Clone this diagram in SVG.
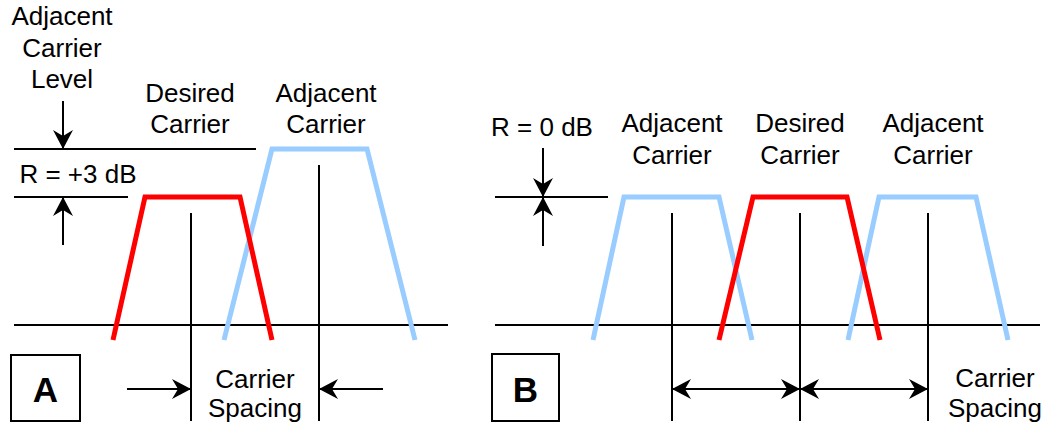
<svg xmlns="http://www.w3.org/2000/svg" width="1047" height="429" viewBox="0 0 1047 429">
<defs>
<marker id="ah" markerUnits="userSpaceOnUse" viewBox="-20 -11 21 22" refX="0" refY="0" markerWidth="21" markerHeight="22" orient="auto-start-reverse">
<path d="M0,0 L-19,-10 L-13,0 L-19,10 Z" fill="#000"/>
</marker>
<style>
.t{font-family:"Liberation Sans",Arial,sans-serif;font-size:26px;fill:#000;text-anchor:middle}
.big{font-family:"Liberation Sans",Arial,sans-serif;font-size:35px;font-weight:bold;fill:#000;text-anchor:middle}
.ln{stroke:#000;stroke-width:2;fill:none}
.arr{stroke:#000;stroke-width:2;fill:none;marker-end:url(#ah)}
.darr{stroke:#000;stroke-width:2;fill:none;marker-start:url(#ah);marker-end:url(#ah)}
.red{stroke:#FF0000;stroke-width:5;fill:none;stroke-linejoin:miter}
.blue{stroke:#99CCFF;stroke-width:5;fill:none;stroke-linejoin:miter}
.box{stroke:#000;stroke-width:2;fill:#fff}
</style>
</defs>
<rect width="1047" height="429" fill="#fff"/>

<g id="panelA">
<g id="A-axis"><line class="ln" x1="14" y1="325" x2="448" y2="325"/></g>
<g id="A-levels">
<line class="ln" x1="14" y1="149" x2="256" y2="149"/>
<line class="ln" x1="14" y1="197" x2="128" y2="197"/>
</g>
<g id="A-adjacent"><polyline class="blue" points="224,340 272,149 367,149 415,340"/></g>
<g id="A-desired"><polyline class="red" points="113,340 145,197 240,197 272,340"/></g>
<g id="A-centers">
<line class="ln" x1="191" y1="213" x2="191" y2="421"/>
<line class="ln" x1="319" y1="165" x2="319" y2="421"/>
</g>
<g id="A-labels">
<text class="t" x="62" y="25">Adjacent</text>
<text class="t" x="62" y="57">Carrier</text>
<text class="t" x="62" y="88">Level</text>
<text class="t" x="190" y="102">Desired</text>
<text class="t" x="190" y="133">Carrier</text>
<text class="t" x="326" y="102">Adjacent</text>
<text class="t" x="326" y="133">Carrier</text>
<text class="t" x="78" y="183">R = +3 dB</text>
<text class="t" x="255" y="388">Carrier</text>
<text class="t" x="255" y="417">Spacing</text>
</g>
<g id="A-box">
<rect class="box" x="11" y="355" width="69" height="66"/>
<text class="big" x="45.5" y="402">A</text>
</g>
</g>

<g id="panelB">
<g id="B-axis"><line class="ln" x1="495" y1="325" x2="1040" y2="325"/></g>
<g id="B-level"><line class="ln" x1="495" y1="197" x2="608" y2="197"/></g>
<g id="B-adj-left"><polyline class="blue" points="593,340 624,197 719,197 752,340"/></g>
<g id="B-adj-right"><polyline class="blue" points="848,340 879,197 976,197 1008,340"/></g>
<g id="B-desired"><polyline class="red" points="719,340 753,197 847,197 880,340"/></g>
<g id="B-centers">
<line class="ln" x1="672" y1="213" x2="672" y2="421"/>
<line class="ln" x1="800" y1="213" x2="800" y2="421"/>
<line class="ln" x1="928" y1="213" x2="928" y2="421"/>
</g>
<g id="B-labels">
<text class="t" x="542" y="136">R = 0 dB</text>
<text class="t" x="672" y="132">Adjacent</text>
<text class="t" x="672" y="164">Carrier</text>
<text class="t" x="800" y="132">Desired</text>
<text class="t" x="800" y="164">Carrier</text>
<text class="t" x="933" y="132">Adjacent</text>
<text class="t" x="933" y="164">Carrier</text>
<text class="t" x="995" y="387">Carrier</text>
<text class="t" x="995" y="417">Spacing</text>
</g>
<g id="B-box">
<rect class="box" x="492" y="354" width="67" height="67"/>
<text class="big" x="525.5" y="402">B</text>
</g>
</g>

<g id="connectors">
<line class="arr" x1="63" y1="101" x2="63" y2="149"/>
<line class="arr" x1="63" y1="245" x2="63" y2="197"/>
<line class="arr" x1="127" y1="389" x2="191" y2="389"/>
<line class="arr" x1="383" y1="389" x2="319" y2="389"/>
<line class="arr" x1="543" y1="148" x2="543" y2="197"/>
<line class="arr" x1="543" y1="246" x2="543" y2="197"/>
<line class="darr" x1="672" y1="389" x2="800" y2="389"/>
<line class="darr" x1="800" y1="389" x2="928" y2="389"/>
</g>
</svg>
